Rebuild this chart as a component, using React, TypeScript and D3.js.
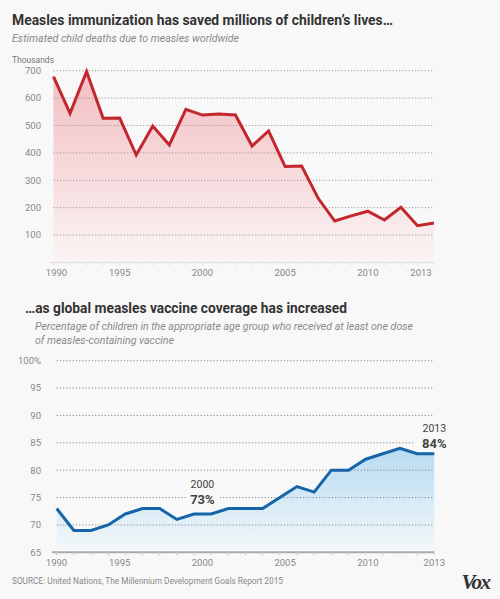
import React from 'react';
import * as d3 from 'd3';

// ---- Data ----
const deathYears = [1990, 1991, 1992, 1993, 1994, 1995, 1996, 1997, 1998, 1999, 2000, 2001, 2002, 2003, 2004, 2005, 2006, 2007, 2008, 2009, 2010, 2011, 2012, 2013];
const deathsThousands = [678, 544, 697, 526, 527, 392, 498, 429, 559, 538, 542, 538, 425, 480, 350, 352, 234, 151, 170, 187, 155, 201, 134, 144];
const deathTicks = [100, 200, 300, 400, 500, 600, 700];

const coverageYears = [1990, 1991, 1992, 1993, 1994, 1995, 1996, 1997, 1998, 1999, 2000, 2001, 2002, 2003, 2004, 2005, 2006, 2007, 2008, 2009, 2010, 2011, 2012];
const coveragePct = [73, 69, 69, 70, 72, 73, 73, 71, 72, 72, 73, 73, 73, 75, 77, 76, 80, 80, 82, 83, 84, 83, 83];
const coverageTicks = [65, 70, 75, 80, 85, 90, 95, 100];

const xTickLabels = [1990, 1995, 2000, 2005, 2010, 2013];

const title1 = 'Measles immunization has saved millions of children\u2019s lives\u2026';
const subtitle1 = 'Estimated child deaths due to measles worldwide';
const title2 = '\u2026as global measles vaccine coverage has increased';
const subtitle2a = 'Percentage of children in the appropriate age group who received at least one dose';
const subtitle2b = 'of measles-containing vaccine';
const source = 'SOURCE: United Nations, The Millennium Development Goals Report 2015';

const BG = '#f8f8f8';
const FONT = 'Roboto, "Noto Sans", sans-serif';

export default function App() {
  const W = 500, H = 599;

  // top chart scales
  const xT = d3.scaleLinear().domain([1990, 2013]).range([53.5, 434]);
  const yT = d3.scaleLinear().domain([0, 700]).range([262.4, 70.7]);
  // bottom chart scales
  const xB = d3.scaleLinear().domain([1990, 2012]).range([56.7, 434.3]);
  const yB = d3.scaleLinear().domain([65, 100]).range([552.3, 360.7]);

  const deathPts = deathYears.map((y, i) => [y, deathsThousands[i]] as [number, number]);
  const covPts = coverageYears.map((y, i) => [y, coveragePct[i]] as [number, number]);

  const lineT = d3.line<[number, number]>().x(d => xT(d[0])).y(d => yT(d[1]));
  const areaT = d3.area<[number, number]>().x(d => xT(d[0])).y0(yT(0)).y1(d => yT(d[1]));
  const lineB = d3.line<[number, number]>().x(d => xB(d[0])).y(d => yB(d[1]));
  const areaB = d3.area<[number, number]>().x(d => xB(d[0])).y0(yB(65)).y1(d => yB(d[1]));

  const first = xTickLabels[0];
  const last = xTickLabels[xTickLabels.length - 1];
  const labelX = (yr: number, bottom: boolean) => {
    if (yr === first) return xT(first) + 3;
    if (yr === last) return bottom ? xB(coverageYears[coverageYears.length - 1]) : xT(last) - 13;
    return xT(yr - 1);
  };

  const tickLen = 3;

  return (
    <div style={{ position: 'fixed', left: 0, top: 0, width: W, height: H }}>
      <svg width={W} height={H} style={{ display: 'block' }} fontFamily={FONT}>
        <defs>
          <linearGradient id="redGrad" gradientUnits="userSpaceOnUse" x1="0" y1={yT(700)} x2="0" y2={yT(0)}>
            <stop offset="0" stopColor="#f2bec2" />
            <stop offset="1" stopColor="#fbf4f4" />
          </linearGradient>
          <linearGradient id="blueGrad" gradientUnits="userSpaceOnUse" x1="0" y1={yB(85)} x2="0" y2={yB(65)}>
            <stop offset="0" stopColor="#b4daf1" />
            <stop offset="1" stopColor="#f4f8fa" />
          </linearGradient>
        </defs>
        <rect x={0} y={0} width={W} height={H} fill={BG} />

        {/* Titles */}
        <text x={12} y={25} fontSize={15} fontWeight={700} fill="#333" textLength={381} lengthAdjust="spacingAndGlyphs">{title1}</text>
        <text x={12} y={42} fontSize={10.6} fontStyle="italic" fill="#8a8a8a" textLength={227} lengthAdjust="spacingAndGlyphs">{subtitle1}</text>

        {/* ---- Top chart ---- */}
        <text x={12} y={63} fontSize={9.5} fill="#777" textLength={42} lengthAdjust="spacingAndGlyphs">Thousands</text>
        <path d={areaT(deathPts) || ''} fill="url(#redGrad)" />
        {deathTicks.map(t => (
          <g key={t}>
            <line x1={xT(1990)} x2={xT(2013)} y1={yT(t)} y2={yT(t)} stroke="#999" strokeWidth={1} strokeDasharray="1.2,2" />
            <text x={41} y={yT(t)} dy="0.35em" textAnchor="end" fontSize={9.5} fill="#888">{t}</text>
          </g>
        ))}
        <line x1={50} x2={xT(2013)} y1={yT(0)} y2={yT(0)} stroke="#ddd" strokeWidth={1} />
        {deathYears.map(y => (
          <line key={y} x1={xT(y)} x2={xT(y)} y1={yT(0)} y2={yT(0) + tickLen} stroke="#ddd" strokeWidth={1} />
        ))}
        <path d={lineT(deathPts) || ''} fill="none" stroke="#c1272d" strokeWidth={3} strokeLinejoin="miter" />
        {xTickLabels.map(y => (
          <text key={y} x={labelX(y, false)} y={275.5} textAnchor="middle" fontSize={9.5} fill="#888">{y}</text>
        ))}

        {/* ---- Bottom chart ---- */}
        <text x={25} y={312.5} fontSize={15} fontWeight={700} fill="#333" textLength={322} lengthAdjust="spacingAndGlyphs">{title2}</text>
        <text x={35} y={330} fontSize={10.6} fontStyle="italic" fill="#8a8a8a" textLength={378} lengthAdjust="spacingAndGlyphs">{subtitle2a}</text>
        <text x={35} y={344} fontSize={10.6} fontStyle="italic" fill="#8a8a8a">{subtitle2b}</text>

        <path d={areaB(covPts) || ''} fill="url(#blueGrad)" />
        {coverageTicks.map(t => (
          <g key={t}>
            {t > 65 && (
              <line x1={xB(1990)} x2={xB(2012)} y1={yB(t)} y2={yB(t)} stroke="#888" strokeWidth={1} strokeDasharray="1.2,2" />
            )}
            <text x={41} y={yB(t)} dy="0.35em" textAnchor="end" fontSize={9.5} fill="#888">{t === 100 ? '100%' : t}</text>
          </g>
        ))}
        <line x1={52} x2={xB(2012)} y1={yB(65)} y2={yB(65)} stroke="#aaa" strokeWidth={2} />
        {coverageYears.map(y => (
          <line key={y} x1={xB(y)} x2={xB(y)} y1={yB(65)} y2={yB(65) + tickLen} stroke="#ccc" strokeWidth={1} />
        ))}
        <path d={lineB(covPts) || ''} fill="none" stroke="#1565a8" strokeWidth={3} strokeLinejoin="miter" />
        {xTickLabels.map(y => (
          <text key={y} x={labelX(y, true)} y={565.5} textAnchor="middle" fontSize={9.5} fill="#888">{y}</text>
        ))}

        {/* Annotations */}
        <rect x={labelX(2000, true) - 16} y={yB(75) - 6} width={32} height={12} fill={BG} />
        <text x={labelX(2000, true)} y={yB(75) - 9.2} textAnchor="middle" fontSize={10.5} fill="#444">2000</text>
        <text x={labelX(2000, true)} y={yB(75) + 6.3} textAnchor="middle" fontSize={13} fontWeight={700} fill="#444">73%</text>

        <rect x={415} y={yB(85) - 6} width={40} height={12} fill={BG} />
        <text x={xB(2012)} y={yB(85) - 10.7} textAnchor="middle" fontSize={10.5} fill="#444">2013</text>
        <text x={xB(2012)} y={yB(85) + 4.8} textAnchor="middle" fontSize={13} fontWeight={700} fill="#444">84%</text>

        {/* Footer */}
        <text x={12} y={584} fontSize={8.6} fill="#888" textLength={271} lengthAdjust="spacingAndGlyphs">{source}</text>
        <text x={475.5} y={589} textAnchor="middle" fontSize={21} fontWeight={700} fontStyle="italic" fontFamily='"Liberation Serif", "DejaVu Serif", serif' letterSpacing={-1.5} fill="#333">Vox</text>
      </svg>
    </div>
  );
}
